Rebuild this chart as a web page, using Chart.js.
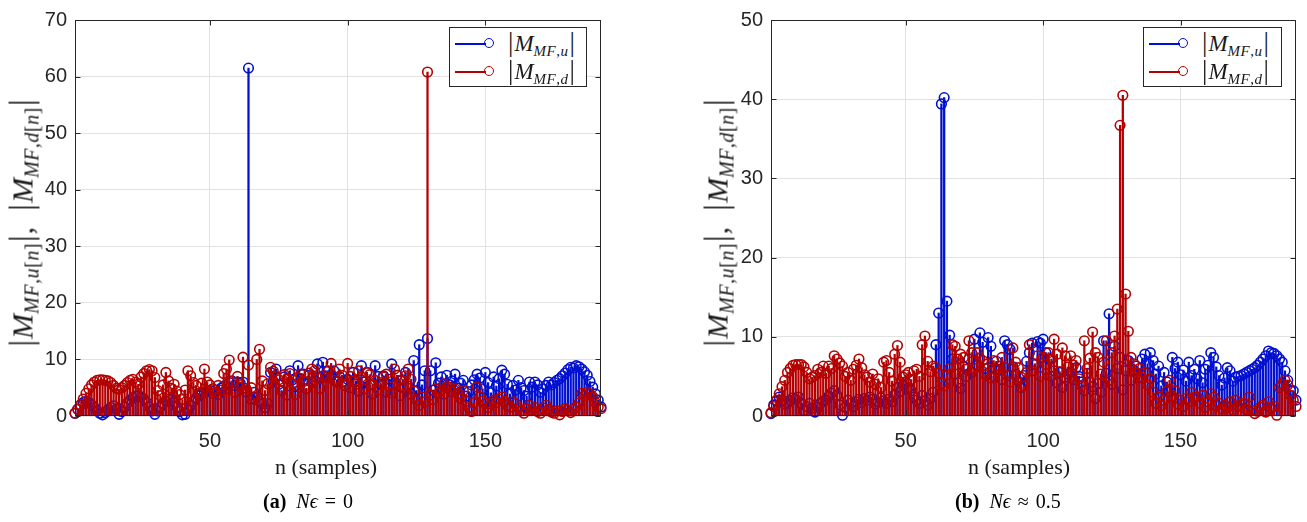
<!DOCTYPE html>
<html>
<head>
<meta charset="UTF-8">
<title>|M_MF| stem plots</title>
<script src="https://cdn.jsdelivr.net/npm/chart.js@4.4.1/dist/chart.umd.min.js"></script>
<style>
  body { margin:0; background:#fff; }
  #wrap { position:relative; width:1307px; height:522px; overflow:hidden; }
  canvas { position:absolute; top:0; }
  .ylab { position:absolute; transform:translate(-50%,-50%) rotate(-90deg); white-space:nowrap;
          font-family:'Liberation Serif',serif; font-size:30px; color:#1a1a1a; line-height:1; }
  .ylab .bar { font-size:34px; font-style:normal; margin:0 1px; }
  .ylab sub { font-size:20px; vertical-align:-6px; letter-spacing:0.5px; }
  .xt { position:absolute; transform:translate(-50%,-50%); white-space:nowrap;
        font-family:'Liberation Serif',serif; font-size:22px; color:#1a1a1a; }
  .cap { position:absolute; transform:translateY(-50%); white-space:nowrap;
         font-family:'Liberation Serif',serif; font-size:20px; color:#000; }
  .cap .eq { margin:0 7px; }
  .leg { position:absolute; top:27px; height:60px; border:1px solid #262626; background:#fff; box-sizing:border-box; }
  .leg .row { position:absolute; left:0; height:26px; width:100%; }
  .leg .ln { position:absolute; left:5px; width:31px; top:12px; height:1.5px; }
  .leg .mk { position:absolute; left:34px; top:7px; width:8px; height:8px; border-radius:50%; border:1.6px solid; }
  .leg .lt { position:absolute; left:57px; top:-4px; font-family:'Liberation Serif',serif; font-size:23px; color:#1a1a1a; white-space:nowrap; }
  .leg .lt .bar { font-size:27px; font-style:normal; margin:0 1px; }
  .leg .lt sub { font-size:15px; vertical-align:-5px; letter-spacing:0.5px; }
</style>
</head>
<body>
<div id="wrap">
  <canvas id="chartA" width="650" height="522" style="left:0px"></canvas>
  <canvas id="chartB" width="611" height="522" style="left:696px"></canvas>

  <div class="ylab" style="left:23px;top:223px"><span class="bar">|</span><i>M</i><sub><i>MF</i>,<i>u</i>[<i>n</i>]</sub><span class="bar">|</span>,&nbsp; <span class="bar">|</span><i>M</i><sub><i>MF</i>,<i>d</i>[<i>n</i>]</sub><span class="bar">|</span></div>
  <div class="ylab" style="left:718px;top:223px"><span class="bar">|</span><i>M</i><sub><i>MF</i>,<i>u</i>[<i>n</i>]</sub><span class="bar">|</span>,&nbsp; <span class="bar">|</span><i>M</i><sub><i>MF</i>,<i>d</i>[<i>n</i>]</sub><span class="bar">|</span></div>

  <div class="xt" style="left:326px;top:467px">n (samples)</div>
  <div class="xt" style="left:1019px;top:467px">n (samples)</div>

  <div class="cap" style="left:263px;top:501px"><b>(a)</b>&nbsp;&nbsp;<i>Nϵ</i><span class="eq">=</span>0</div>
  <div class="cap" style="left:955px;top:501px"><b>(b)</b>&nbsp;&nbsp;<i>Nϵ</i><span class="eq">≈</span>0.5</div>

  <div class="leg" style="left:449px;width:138px">
    <div class="row" style="top:3px"><div class="ln" style="background:#0010d0"></div><div class="mk" style="border-color:#0010d0"></div>
      <div class="lt"><span class="bar">|</span><i>M</i><sub><i>MF</i>,<i>u</i></sub><span class="bar">|</span></div></div>
    <div class="row" style="top:31px"><div class="ln" style="background:#b40000"></div><div class="mk" style="border-color:#b40000"></div>
      <div class="lt"><span class="bar">|</span><i>M</i><sub><i>MF</i>,<i>d</i></sub><span class="bar">|</span></div></div>
  </div>
  <div class="leg" style="left:1143px;width:139px">
    <div class="row" style="top:3px"><div class="ln" style="background:#0010d0"></div><div class="mk" style="border-color:#0010d0"></div>
      <div class="lt"><span class="bar">|</span><i>M</i><sub><i>MF</i>,<i>u</i></sub><span class="bar">|</span></div></div>
    <div class="row" style="top:31px"><div class="ln" style="background:#b40000"></div><div class="mk" style="border-color:#b40000"></div>
      <div class="lt"><span class="bar">|</span><i>M</i><sub><i>MF</i>,<i>d</i></sub><span class="bar">|</span></div></div>
  </div>
</div>

<script>
// x ticks shared by both panels, samples run 1..192
var xTicks = [50, 100, 150];
var nFirst = 1, nLast = 192;
var yMaxA = 70, yMaxB = 50;

// (a) N*eps = 0
var blueA = [0.5,1.2,1.9,2.4,2.6,2.4,2.0,1.5,1.0,0.5,
  0.2,0.6,1.1,1.5,1.8,1.2,0.3,0.8,1.6,2.3,
  2.8,3.2,3.5,3.6,3.4,3.0,2.4,1.6,0.9,0.3,
  0.9,1.6,2.2,2.7,3.0,2.9,2.4,1.6,0.8,0.2,
  0.3,1.0,1.8,2.6,3.2,3.6,3.9,4.2,4.4,4.5,
  4.0,4.6,3.8,4.9,5.3,4.8,5.9,6.2,5.4,6.0,
  5.8,6.0,4.3,61.5,3.0,4.2,3.4,2.6,2.2,1.5,
  2.2,7.7,6.1,8.3,5.6,4.5,6.9,3.7,8.0,6.4,
  5.2,8.9,6.6,7.4,4.8,7.2,5.9,6.3,9.2,6.8,
  9.5,7.1,8.0,7.1,8.0,6.2,7.0,6.0,5.4,6.5,
  5.0,7.7,6.2,4.4,8.9,6.0,7.7,5.5,3.9,8.9,
  7.0,5.6,7.1,4.2,6.5,9.2,5.8,7.2,3.6,6.4,
  7.7,5.3,3.9,9.8,4.5,12.6,5.5,8.0,13.7,8.0,
  4.6,9.4,5.8,6.9,3.9,7.2,5.5,6.2,7.4,4.9,
  5.8,6.3,3.5,4.3,5.5,6.4,7.4,6.7,4.8,7.7,
  5.9,4.1,6.9,5.3,6.6,8.1,7.4,5.6,3.9,5.4,
  4.6,6.3,5.0,4.5,3.5,6.0,5.1,6.0,5.5,4.2,
  4.8,5.4,6.0,5.5,5.9,6.3,6.6,7.1,7.6,8.2,
  8.6,8.5,8.9,8.7,8.3,7.8,7.2,6.1,5.1,3.9,
  2.8,1.6];
var redA = [0.5,1.2,2.0,3.0,4.0,4.8,5.5,6.0,6.3,6.4,
  6.4,6.3,6.2,5.9,5.4,4.9,4.7,5.0,5.4,5.9,
  6.3,6.5,6.0,5.6,6.9,7.5,8.0,8.2,8.0,6.8,
  4.5,3.6,5.5,7.7,6.2,4.9,5.6,4.4,3.8,2.9,
  4.6,8.0,7.1,5.9,5.4,4.0,5.8,8.3,6.0,5.5,
  4.8,4.2,5.4,4.6,7.5,8.3,9.9,6.1,4.2,7.0,
  5.1,10.4,4.9,9.0,5.0,3.2,10.0,11.8,6.2,4.5,
  5.7,8.6,7.9,7.0,6.4,4.4,7.3,6.6,7.5,5.7,
  3.8,6.8,7.4,6.1,4.9,7.6,8.3,8.0,6.7,4.9,
  7.1,6.8,7.9,9.3,6.3,6.0,8.3,7.2,5.4,9.3,
  7.0,6.2,5.6,8.0,6.9,4.8,7.7,7.3,5.5,6.3,
  4.6,5.9,6.9,7.4,5.2,4.1,8.3,7.2,6.3,5.0,
  7.1,8.3,6.5,4.4,2.8,1.9,3.4,2.5,60.8,3.7,
  2.9,4.8,4.0,4.6,5.7,5.2,5.1,4.3,4.8,3.9,
  3.1,4.5,2.6,1.5,0.8,2.4,5.1,3.4,2.7,2.2,
  1.5,2.1,2.8,2.4,3.0,3.4,2.6,1.9,1.6,2.5,
  2.2,1.4,0.9,0.5,1.3,1.9,1.0,1.5,0.8,0.5,
  1.4,1.9,1.2,0.7,0.5,0.9,0.2,0.8,1.3,1.0,
  0.6,1.2,1.6,2.3,4.0,3.6,4.2,3.9,3.4,2.4,
  1.6,1.3];

// (b) N*eps ~ 0.5
var blueB = [0.3,1.4,1.9,2.4,2.0,1.5,1.6,2.0,2.3,2.1,
  2.4,1.6,0.7,1.2,1.6,1.0,0.5,1.1,1.6,1.9,
  2.0,2.5,2.9,3.2,2.6,1.4,0.1,1.1,2.0,1.6,
  1.2,1.8,2.1,1.7,2.2,2.0,2.4,2.1,1.5,1.8,
  2.3,1.9,1.6,2.1,1.8,2.7,3.6,3.1,3.9,4.3,
  3.6,3.2,2.4,2.0,1.6,2.6,1.9,1.4,2.2,3.0,
  9.0,13.0,39.4,40.2,14.5,10.2,7.2,5.3,4.2,3.5,
  6.3,5.0,7.2,5.5,9.7,6.4,10.5,9.3,6.0,9.9,
  8.8,5.0,6.9,5.9,4.6,9.5,9.0,8.4,6.2,5.3,
  4.4,3.6,5.1,6.9,8.0,9.2,6.5,9.4,9.2,9.7,
  8.0,7.2,5.0,5.7,4.2,5.5,3.6,4.9,5.3,5.5,
  4.6,6.1,5.0,4.3,3.2,5.4,4.3,3.7,2.2,4.1,
  3.0,9.5,5.4,12.9,4.0,8.8,6.0,7.4,3.3,5.7,
  7.0,4.5,5.8,6.3,4.9,7.2,7.8,6.6,8.0,7.0,
  5.3,6.3,3.8,5.5,4.3,3.1,7.4,6.0,6.8,5.2,
  5.8,4.4,6.8,5.1,5.9,4.7,7.0,4.2,5.9,6.4,
  8.0,7.4,6.2,5.1,3.9,4.8,6.1,5.7,4.4,4.9,
  5.0,5.1,5.3,5.5,5.7,5.9,6.1,6.4,6.8,7.2,
  7.6,8.2,8.0,7.9,7.6,7.2,6.8,5.7,4.5,3.2,
  3.2,2.0];
var redB = [0.4,1.2,2.0,2.8,3.7,4.5,5.5,6.0,6.4,6.5,
  6.5,6.5,6.2,5.5,4.7,4.9,5.1,5.9,5.5,6.3,
  5.4,6.3,6.0,7.6,7.2,6.7,6.3,5.0,5.5,4.5,
  5.9,6.4,7.2,6.1,5.2,4.9,4.3,5.3,4.0,4.7,
  3.6,6.8,7.0,5.5,4.4,7.8,8.9,6.8,4.9,5.2,
  5.5,4.6,5.7,5.9,5.0,9.0,10.1,6.9,5.6,6.3,
  6.1,5.4,4.1,3.8,5.2,6.0,9.0,8.8,7.2,7.8,
  7.4,5.9,9.5,8.0,6.0,8.0,7.3,7.0,5.2,6.6,
  4.8,7.0,5.9,6.3,7.4,6.1,5.1,4.3,8.6,6.8,
  6.1,4.9,3.8,5.5,9.0,5.7,6.6,7.6,5.0,7.4,
  6.5,8.0,7.2,9.7,7.8,5.6,8.6,7.6,6.2,7.6,
  6.4,7.0,4.7,3.8,9.5,6.0,7.3,10.6,8.0,7.4,
  5.3,6.8,9.5,4.5,8.0,10.1,13.5,36.7,40.5,15.4,
  10.7,7.4,6.6,5.4,6.0,4.8,5.5,3.9,4.7,3.0,
  1.6,2.4,1.3,2.0,3.1,4.5,2.5,3.2,1.5,2.0,
  1.2,2.2,1.8,3.0,2.3,2.4,1.6,2.6,1.1,1.8,
  2.8,2.4,1.3,1.6,0.9,1.4,1.0,1.8,0.8,2.0,
  1.2,1.4,1.6,0.8,2.4,0.7,0.3,0.6,1.1,1.4,
  0.5,1.8,1.0,1.2,0.1,3.6,4.0,4.5,3.9,2.6,
  2.0,1.2];

var BLUE = '#0010d0';
var RED = '#b40000';
var AXIS = '#262626';

// box round the axes and inward ticks on all four sides, like matlab
var axisBox = {
  id: 'axisBox',
  afterDatasetsDraw: function (chart) {
    var ctx = chart.ctx, a = chart.chartArea;
    var xs = chart.scales.x, ys = chart.scales.y;
    var L = Math.round(a.left) + 0.5, R = Math.round(a.right) - 0.5;
    var T = Math.round(a.top) + 0.5, B = Math.round(a.bottom) - 0.5;
    ctx.save();
    ctx.strokeStyle = AXIS;
    ctx.lineWidth = 1;
    ctx.beginPath();
    xs.ticks.forEach(function (t) {
      var px = Math.round(xs.getPixelForValue(t.value)) + 0.5;
      ctx.moveTo(px, B); ctx.lineTo(px, B - 5);
      ctx.moveTo(px, T); ctx.lineTo(px, T + 5);
    });
    ys.ticks.forEach(function (t) {
      var py = Math.round(ys.getPixelForValue(t.value)) + 0.5;
      ctx.moveTo(L, py); ctx.lineTo(L + 5, py);
      ctx.moveTo(R, py); ctx.lineTo(R - 5, py);
    });
    ctx.stroke();
    ctx.strokeRect(L, T, R - L, B - T);
    ctx.restore();
  }
};

function stems(vals, color, ord) {
  var pts = vals.map(function (v, i) { return {x: nFirst + i, y: v}; });
  return [
    {type: 'bar', data: pts, backgroundColor: color, borderWidth: 0, barThickness: 1.6,
     grouped: false, order: ord + 1},
    {type: 'line', data: pts, showLine: false, pointStyle: 'circle', pointRadius: 4.8,
     pointHoverRadius: 4.8, pointBorderWidth: 1.6, pointBorderColor: color,
     pointBackgroundColor: 'rgba(0,0,0,0)', clip: false, order: ord}
  ];
}

function makePanel(id, blue, red, yMax, padRight) {
  var datasets = stems(blue, BLUE, 3).concat(stems(red, RED, 1));
  return new Chart(document.getElementById(id), {
    type: 'bar',
    data: {datasets: datasets},
    options: {
      responsive: false,
      animation: false,
      events: [],
      layout: {padding: {left: 0, right: padRight, top: 14, bottom: 0}},
      plugins: {legend: {display: false}, tooltip: {enabled: false}},
      scales: {
        x: {
          type: 'linear', min: nFirst, max: nLast, offset: false,
          afterBuildTicks: function (s) { s.ticks = xTicks.map(function (v) { return {value: v}; }); },
          afterFit: function (s) { s.height = 106; },
          grid: {color: '#e2e2e2', drawTicks: false, offset: false},
          border: {display: false},
          ticks: {color: AXIS, font: {family: 'Liberation Sans', size: 20}, padding: 13,
                  maxRotation: 0, autoSkip: false}
        },
        y: {
          min: 0, max: yMax,
          afterFit: function (s) { s.width = 75; },
          grid: {color: '#e2e2e2', drawTicks: false},
          border: {display: false},
          ticks: {stepSize: 10, color: AXIS, font: {family: 'Liberation Sans', size: 20}, padding: 8}
        }
      }
    },
    plugins: [axisBox]
  });
}

makePanel('chartA', blueA, redA, yMaxA, 49);
makePanel('chartB', blueB, redB, yMaxB, 11);
</script>
</body>
</html>
